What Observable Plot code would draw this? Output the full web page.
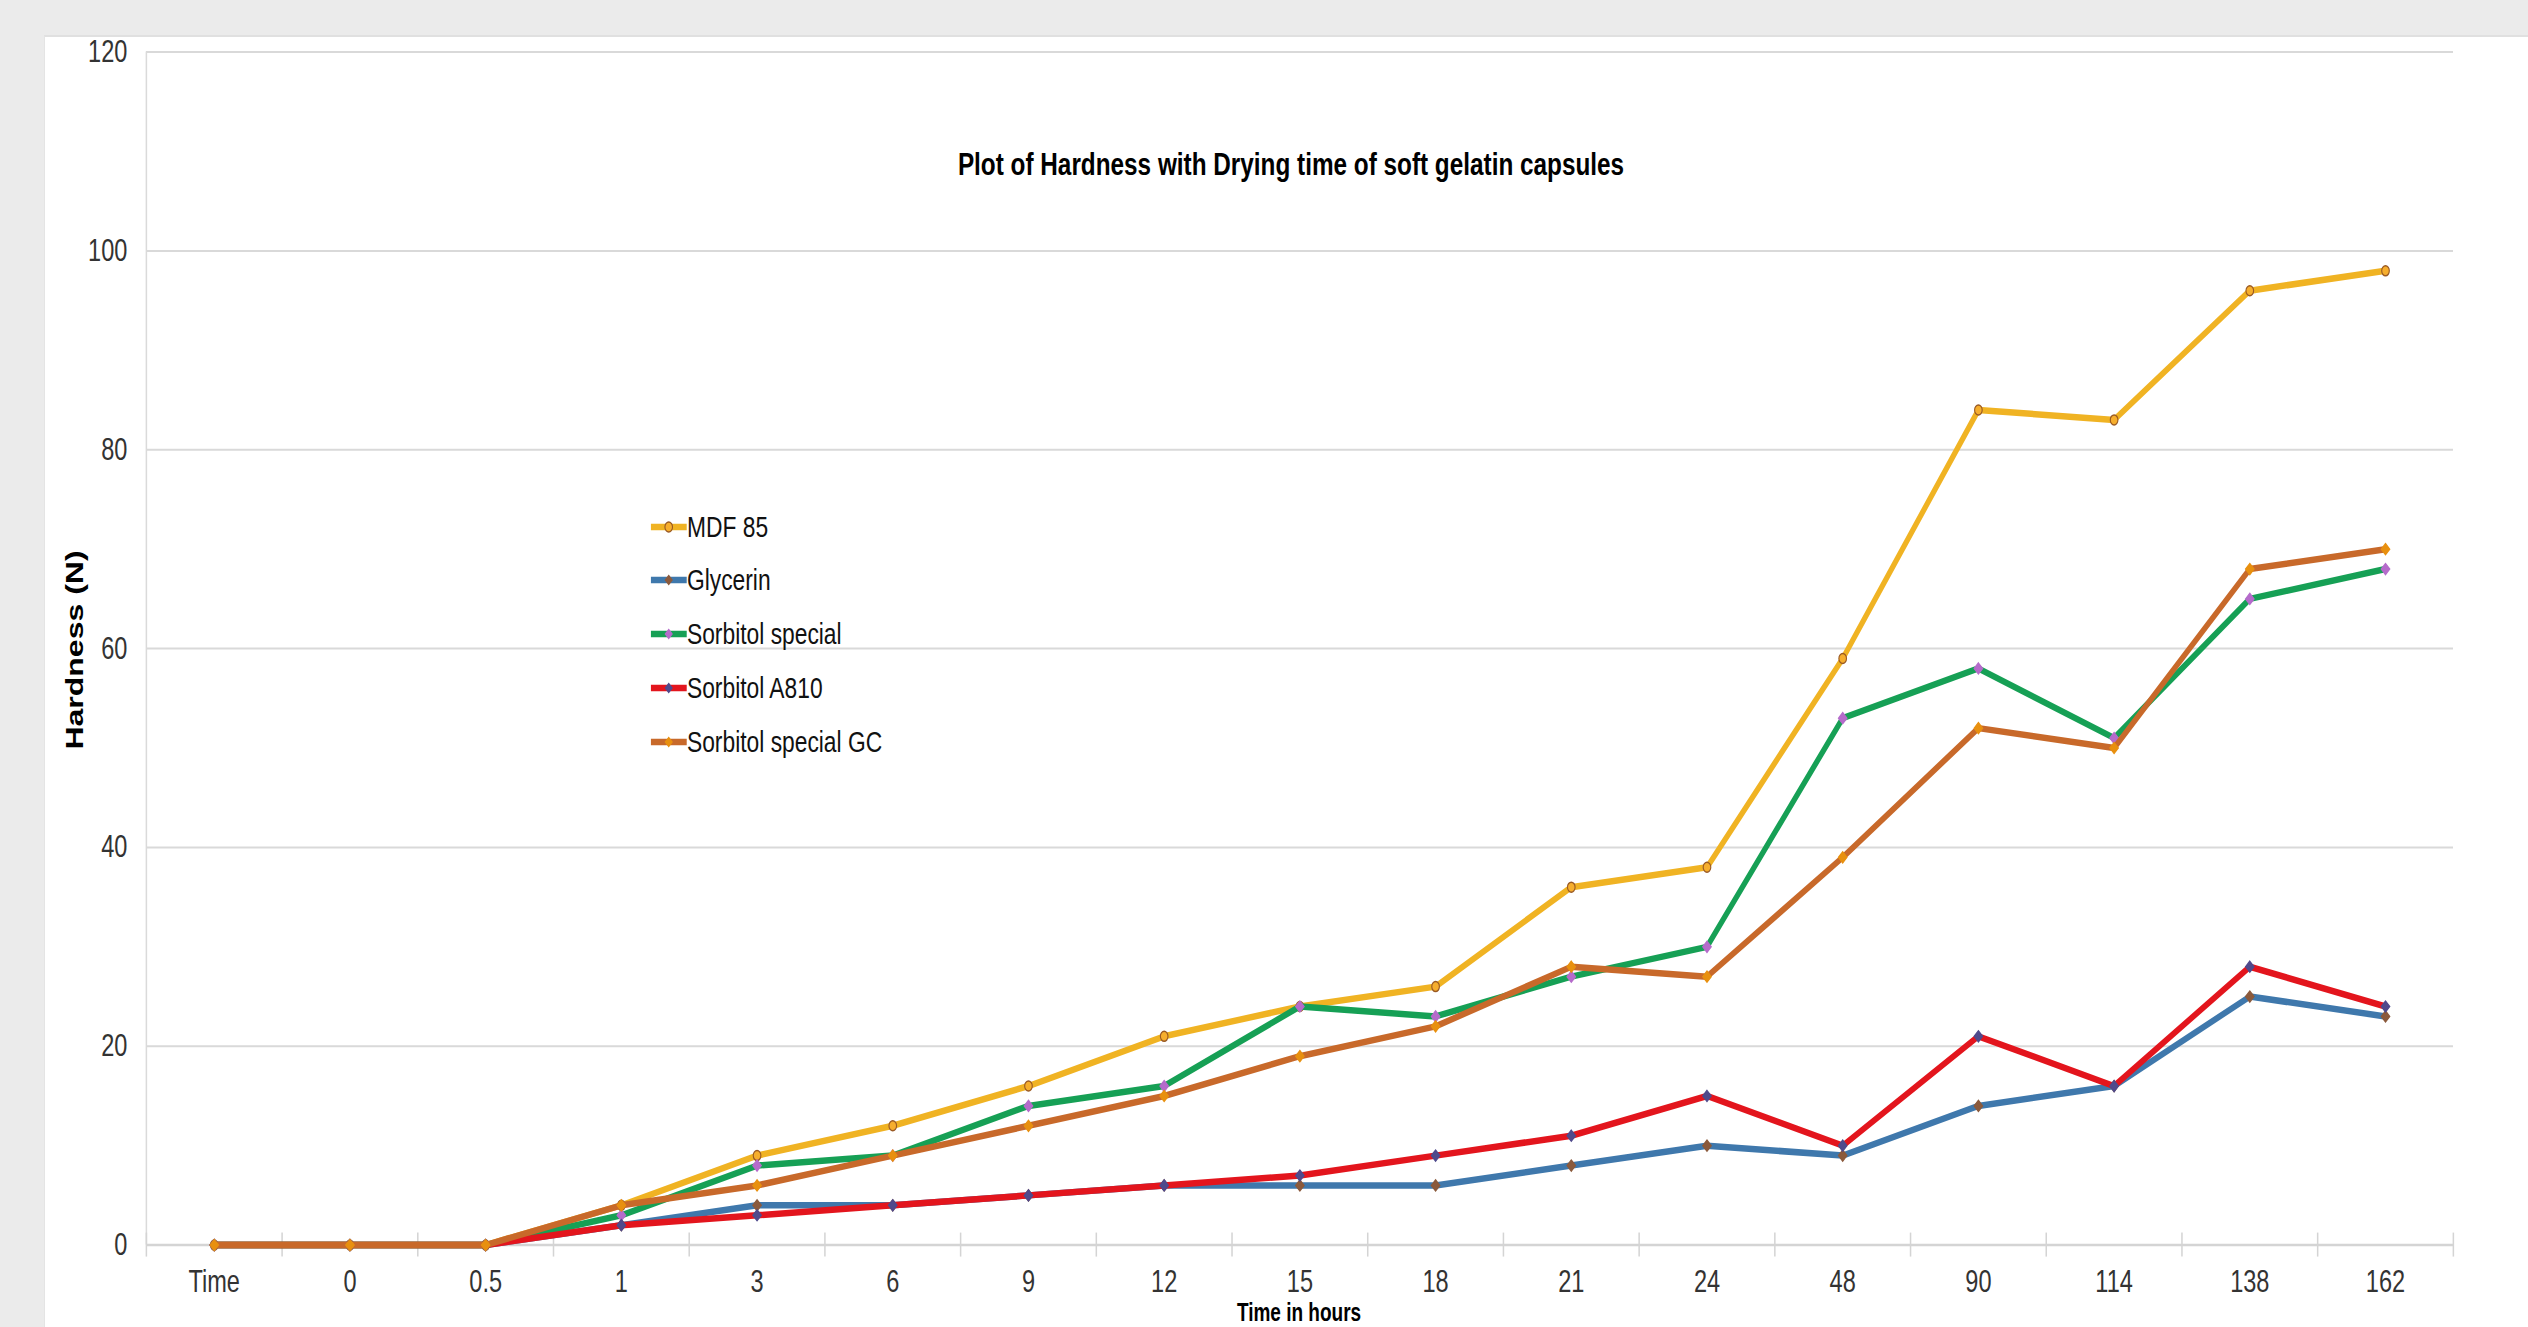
<!DOCTYPE html>
<html>
<head>
<meta charset="utf-8">
<script src="https://cdn.jsdelivr.net/npm/d3@7"></script>
<script src="https://cdn.jsdelivr.net/npm/@observablehq/plot@0.6"></script>
<style>
  html, body { margin: 0; padding: 0; }
  body { width: 2528px; height: 1327px; overflow: hidden; background: #ebebeb; position: relative;
         font-family: "Liberation Sans", Arial, sans-serif; }
  #panel { position: absolute; left: 44px; top: 35px; right: 0; bottom: 0; background: #fff;
           overflow: hidden; border-top: 2px solid #e0e0e0; border-left: 1px solid #e4e4e4; box-sizing: border-box; }
  #inner { position: absolute; left: 0; top: -2px; width: 3300px; height: 1400px;
           transform-origin: 0 0; }
  .title { position: absolute; font-weight: bold; font-size: 32px; line-height: 32px; color: #000; white-space: nowrap; }
  .ytitle { position: absolute; font-weight: bold; font-size: 32px; line-height: 32px; color: #000; white-space: nowrap;
            transform: translate(-50%, -50%) rotate(-90deg); }
  .legend-item { position: absolute; display: flex; align-items: center; height: 40px; white-space: nowrap;
                 font-size: 30px; color: #111; }
</style>
</head>
<body>
<div id="panel"><div id="inner"></div></div>
<script>
// ---------- data ----------
const categories = ["Time","0","0.5","1","3","6","9","12","15","18","21","24","48","90","114","138","162"];
const seriesNames = ["MDF 85","Glycerin","Sorbitol special","Sorbitol A810","Sorbitol special GC"];
const mdf85            = [0,0,0,4,9,12,16,21,24,26,36,38,59,84,83,96,98];
const glycerin         = [0,0,0,2,4,4,5,6,6,6,8,10,9,14,16,25,23];
const sorbitolSpecial  = [0,0,0,3,8,9,14,16,24,23,27,30,53,58,51,65,68];
const sorbitolA810     = [0,0,0,2,3,4,5,6,7,9,11,15,10,21,16,28,24];
const sorbitolSpecialGC= [0,0,0,4,6,9,12,15,19,22,28,27,39,52,50,68,70];
const yTicks = [0,20,40,60,80,100,120];

const lineColors   = ["#F0B323","#3F78AC","#16A055","#E3151D","#C8692A"];
const markerFills  = ["#F6AE2D","#8B5A3C","#B56BCB","#4F4A8C","#E8900F"];
const markerStroke = ["#9A5A24","#8B5A3C","#B56BCB","#4F4A8C","#E8900F"];
const markerShapes = ["circle","diamond2","diamond2","diamond2","diamond2"];
const seriesValues = [mdf85, glycerin, sorbitolSpecial, sorbitolA810, sorbitolSpecialGC];

// ---------- layout (horizontal squeeze like the reference) ----------
const S = 0.76;                 // horizontal compression
const PANEL_LEFT = 44, PANEL_TOP = 35;
const ux = xFull => (xFull - PANEL_LEFT) / S;   // full-page x -> uncompressed panel x
const uy = yFull => yFull - PANEL_TOP;
const inner = document.getElementById("inner");
inner.style.transform = `scaleX(${S})`;

const W = ux(2528) + 20;
const plotLeft = ux(145), plotRight = ux(2452);
const plotTop = uy(51.6), plotBottom = uy(1244.6);
const H = 1310;

const series = seriesNames.map((name, k) => ({
  name, color: lineColors[k], fill: markerFills[k], stroke: markerStroke[k], symbol: markerShapes[k],
  data: seriesValues[k].map((v, i) => ({i, v}))
}));

const idx = d3.range(categories.length);
const bounds = d3.range(categories.length + 1).map(i => i - 0.5);

const marks = [
  Plot.gridY(yTicks, {stroke: "#d9d9d9", strokeOpacity: 1, strokeWidth: 2}),
  Plot.ruleX([-0.5], {y1: 0, y2: 120, stroke: "#dadada", strokeWidth: 2}),
  Plot.ruleY([0], {stroke: "#d4d4d4", strokeWidth: 2.5}),
  Plot.ruleX(bounds, {y1: 0, y2: 0, insetTop: -12, insetBottom: -12, stroke: "#d4d4d4", strokeWidth: 2}),
  Plot.axisY(yTicks, {tickSize: 0, tickPadding: 25, fontSize: 31, fill: "#333", label: null}),
  Plot.axisX(idx, {tickSize: 0, tickPadding: 25, fontSize: 31, fill: "#333", label: null,
                   tickFormat: i => categories[i]})
];
for (const s of series) {
  marks.push(Plot.line(s.data, {x: "i", y: "v", stroke: s.color, strokeWidth: 6.5,
                                strokeLinejoin: "round", strokeLinecap: "butt"}));
  marks.push(Plot.dot(s.data, {x: "i", y: "v", r: 5, symbol: s.symbol, fill: s.fill,
                               stroke: s.stroke, strokeWidth: 1.5}));
}

const chart = Plot.plot({
  width: W, height: H,
  marginLeft: plotLeft, marginRight: W - plotRight,
  marginTop: plotTop, marginBottom: H - plotBottom,
  style: {fontFamily: "'Liberation Sans', Arial, sans-serif", background: "transparent", overflow: "visible"},
  x: {type: "linear", domain: [-0.5, categories.length - 0.5], label: null},
  y: {domain: [0, 120], label: null},
  marks
});
chart.style.position = "absolute";
chart.style.left = "0px";
chart.style.top = "0px";
inner.appendChild(chart);

// ---------- title ----------
const title = document.createElement("div");
title.className = "title";
title.textContent = "Plot of Hardness with Drying time of soft gelatin capsules";
title.style.left = ux(1290) + "px";
title.style.top = (uy(163) - 15) + "px";
title.style.transform = "translateX(-50%)";
inner.appendChild(title);

// ---------- axis titles ----------
const yTitle = document.createElement("div");
yTitle.className = "ytitle";
yTitle.textContent = "Hardness (N)";
yTitle.style.left = ux(74) + "px";
yTitle.style.top = uy(650) + "px";
inner.appendChild(yTitle);

const xTitle = document.createElement("div");
xTitle.className = "title";
xTitle.style.fontSize = "25px";
xTitle.style.lineHeight = "22px";
xTitle.textContent = "Time in hours";
xTitle.style.left = ux(1298) + "px";
xTitle.style.top = (uy(1320.5) - 19.5) + "px";
xTitle.style.transform = "translateX(-50%)";
inner.appendChild(xTitle);

// ---------- legend ----------
const legendRows = [527, 580, 634, 688, 742];
series.forEach((s, k) => {
  const item = document.createElement("div");
  item.className = "legend-item";
  item.style.left = ux(650) + "px";
  item.style.top = (uy(legendRows[k]) - 20) + "px";
  const sw = ux(686) - ux(650);
  const svg = d3.create("svg").attr("width", sw).attr("height", 20).style("display", "block");
  svg.append("line").attr("x1", 0).attr("x2", sw).attr("y1", 10).attr("y2", 10)
     .attr("stroke", s.color).attr("stroke-width", 6.5);
  const sym = s.symbol === "circle" ? d3.symbolCircle : d3.symbolDiamond2;
  svg.append("path").attr("d", d3.symbol(sym, s.symbol === "circle" ? Math.PI * 5 * 5 : 2 * 5 * 5)())
     .attr("transform", `translate(${sw / 2},10)`)
     .attr("fill", s.fill).attr("stroke", s.stroke).attr("stroke-width", 1.5);
  item.appendChild(svg.node());
  const label = document.createElement("span");
  label.textContent = s.name;
  item.appendChild(label);
  inner.appendChild(item);
});
</script>
</body>
</html>
